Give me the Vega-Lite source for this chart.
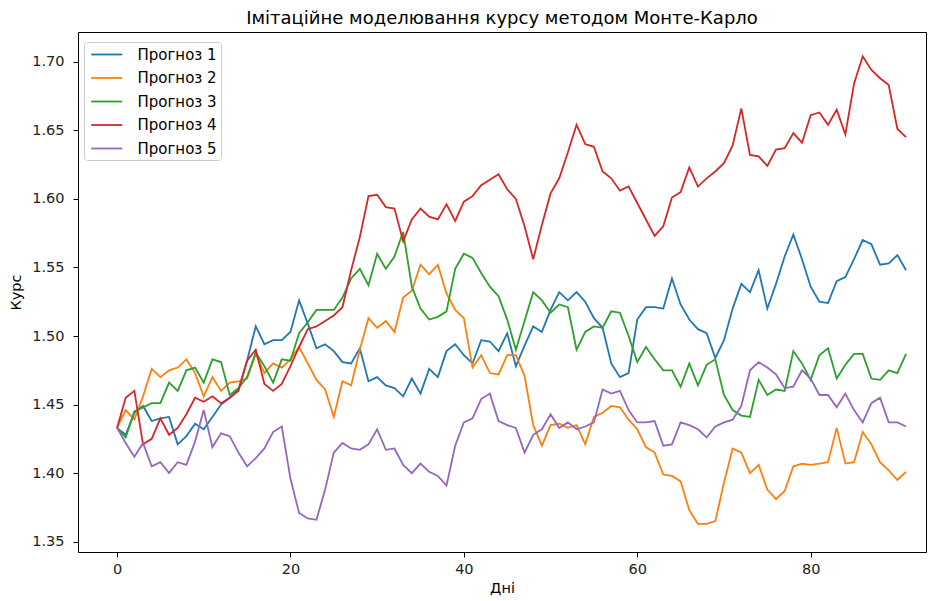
{
"$schema": "https://vega.github.io/schema/vega-lite/v6.json",
"width": 848, "height": 520,
"autosize": "none",
"padding": {"left": 78, "top": 32, "right": 6, "bottom": 49},
"background": "white",
"title": {"text": "Імітаційне моделювання курсу методом Монте-Карло", "font": "DejaVu Sans", "fontSize": 18, "fontWeight": "normal", "color": "#000", "offset": 4, "anchor": "middle"},
"datasets": {
"rows": [
{"day":0,"series":"Прогноз 1","value":1.433},{"day":1,"series":"Прогноз 1","value":1.428},{"day":2,"series":"Прогноз 1","value":1.444},{"day":3,"series":"Прогноз 1","value":1.449},{"day":4,"series":"Прогноз 1","value":1.438},{"day":5,"series":"Прогноз 1","value":1.440},{"day":6,"series":"Прогноз 1","value":1.441},{"day":7,"series":"Прогноз 1","value":1.421},{"day":8,"series":"Прогноз 1","value":1.427},{"day":9,"series":"Прогноз 1","value":1.436},
{"day":10,"series":"Прогноз 1","value":1.432},{"day":11,"series":"Прогноз 1","value":1.441},{"day":12,"series":"Прогноз 1","value":1.450},{"day":13,"series":"Прогноз 1","value":1.455},{"day":14,"series":"Прогноз 1","value":1.461},{"day":15,"series":"Прогноз 1","value":1.482},{"day":16,"series":"Прогноз 1","value":1.507},{"day":17,"series":"Прогноз 1","value":1.494},{"day":18,"series":"Прогноз 1","value":1.497},{"day":19,"series":"Прогноз 1","value":1.497},
{"day":20,"series":"Прогноз 1","value":1.503},{"day":21,"series":"Прогноз 1","value":1.526},{"day":22,"series":"Прогноз 1","value":1.509},{"day":23,"series":"Прогноз 1","value":1.491},{"day":24,"series":"Прогноз 1","value":1.494},{"day":25,"series":"Прогноз 1","value":1.489},{"day":26,"series":"Прогноз 1","value":1.481},{"day":27,"series":"Прогноз 1","value":1.480},{"day":28,"series":"Прогноз 1","value":1.491},{"day":29,"series":"Прогноз 1","value":1.467},
{"day":30,"series":"Прогноз 1","value":1.470},{"day":31,"series":"Прогноз 1","value":1.464},{"day":32,"series":"Прогноз 1","value":1.462},{"day":33,"series":"Прогноз 1","value":1.456},{"day":34,"series":"Прогноз 1","value":1.469},{"day":35,"series":"Прогноз 1","value":1.458},{"day":36,"series":"Прогноз 1","value":1.476},{"day":37,"series":"Прогноз 1","value":1.470},{"day":38,"series":"Прогноз 1","value":1.489},{"day":39,"series":"Прогноз 1","value":1.494},
{"day":40,"series":"Прогноз 1","value":1.486},{"day":41,"series":"Прогноз 1","value":1.480},{"day":42,"series":"Прогноз 1","value":1.497},{"day":43,"series":"Прогноз 1","value":1.496},{"day":44,"series":"Прогноз 1","value":1.489},{"day":45,"series":"Прогноз 1","value":1.502},{"day":46,"series":"Прогноз 1","value":1.478},{"day":47,"series":"Прогноз 1","value":1.493},{"day":48,"series":"Прогноз 1","value":1.507},{"day":49,"series":"Прогноз 1","value":1.503},
{"day":50,"series":"Прогноз 1","value":1.519},{"day":51,"series":"Прогноз 1","value":1.532},{"day":52,"series":"Прогноз 1","value":1.526},{"day":53,"series":"Прогноз 1","value":1.532},{"day":54,"series":"Прогноз 1","value":1.525},{"day":55,"series":"Прогноз 1","value":1.513},{"day":56,"series":"Прогноз 1","value":1.506},{"day":57,"series":"Прогноз 1","value":1.480},{"day":58,"series":"Прогноз 1","value":1.470},{"day":59,"series":"Прогноз 1","value":1.473},
{"day":60,"series":"Прогноз 1","value":1.512},{"day":61,"series":"Прогноз 1","value":1.521},{"day":62,"series":"Прогноз 1","value":1.521},{"day":63,"series":"Прогноз 1","value":1.520},{"day":64,"series":"Прогноз 1","value":1.542},{"day":65,"series":"Прогноз 1","value":1.523},{"day":66,"series":"Прогноз 1","value":1.512},{"day":67,"series":"Прогноз 1","value":1.505},{"day":68,"series":"Прогноз 1","value":1.502},{"day":69,"series":"Прогноз 1","value":1.484},
{"day":70,"series":"Прогноз 1","value":1.497},{"day":71,"series":"Прогноз 1","value":1.520},{"day":72,"series":"Прогноз 1","value":1.538},{"day":73,"series":"Прогноз 1","value":1.532},{"day":74,"series":"Прогноз 1","value":1.548},{"day":75,"series":"Прогноз 1","value":1.520},{"day":76,"series":"Прогноз 1","value":1.538},{"day":77,"series":"Прогноз 1","value":1.558},{"day":78,"series":"Прогноз 1","value":1.574},{"day":79,"series":"Прогноз 1","value":1.556},
{"day":80,"series":"Прогноз 1","value":1.536},{"day":81,"series":"Прогноз 1","value":1.525},{"day":82,"series":"Прогноз 1","value":1.524},{"day":83,"series":"Прогноз 1","value":1.540},{"day":84,"series":"Прогноз 1","value":1.543},{"day":85,"series":"Прогноз 1","value":1.556},{"day":86,"series":"Прогноз 1","value":1.570},{"day":87,"series":"Прогноз 1","value":1.567},{"day":88,"series":"Прогноз 1","value":1.552},{"day":89,"series":"Прогноз 1","value":1.553},
{"day":90,"series":"Прогноз 1","value":1.559},{"day":91,"series":"Прогноз 1","value":1.548},

{"day":0,"series":"Прогноз 2","value":1.433},{"day":1,"series":"Прогноз 2","value":1.446},{"day":2,"series":"Прогноз 2","value":1.439},{"day":3,"series":"Прогноз 2","value":1.456},{"day":4,"series":"Прогноз 2","value":1.476},{"day":5,"series":"Прогноз 2","value":1.470},{"day":6,"series":"Прогноз 2","value":1.475},{"day":7,"series":"Прогноз 2","value":1.477},{"day":8,"series":"Прогноз 2","value":1.483},{"day":9,"series":"Прогноз 2","value":1.473},
{"day":10,"series":"Прогноз 2","value":1.456},{"day":11,"series":"Прогноз 2","value":1.470},{"day":12,"series":"Прогноз 2","value":1.460},{"day":13,"series":"Прогноз 2","value":1.466},{"day":14,"series":"Прогноз 2","value":1.467},{"day":15,"series":"Прогноз 2","value":1.469},{"day":16,"series":"Прогноз 2","value":1.487},{"day":17,"series":"Прогноз 2","value":1.473},{"day":18,"series":"Прогноз 2","value":1.480},{"day":19,"series":"Прогноз 2","value":1.477},
{"day":20,"series":"Прогноз 2","value":1.483},{"day":21,"series":"Прогноз 2","value":1.492},{"day":22,"series":"Прогноз 2","value":1.480},{"day":23,"series":"Прогноз 2","value":1.468},{"day":24,"series":"Прогноз 2","value":1.461},{"day":25,"series":"Прогноз 2","value":1.441},{"day":26,"series":"Прогноз 2","value":1.467},{"day":27,"series":"Прогноз 2","value":1.464},{"day":28,"series":"Прогноз 2","value":1.490},{"day":29,"series":"Прогноз 2","value":1.513},
{"day":30,"series":"Прогноз 2","value":1.506},{"day":31,"series":"Прогноз 2","value":1.511},{"day":32,"series":"Прогноз 2","value":1.503},{"day":33,"series":"Прогноз 2","value":1.528},{"day":34,"series":"Прогноз 2","value":1.533},{"day":35,"series":"Прогноз 2","value":1.552},{"day":36,"series":"Прогноз 2","value":1.545},{"day":37,"series":"Прогноз 2","value":1.552},{"day":38,"series":"Прогноз 2","value":1.531},{"day":39,"series":"Прогноз 2","value":1.519},
{"day":40,"series":"Прогноз 2","value":1.513},{"day":41,"series":"Прогноз 2","value":1.477},{"day":42,"series":"Прогноз 2","value":1.486},{"day":43,"series":"Прогноз 2","value":1.473},{"day":44,"series":"Прогноз 2","value":1.472},{"day":45,"series":"Прогноз 2","value":1.486},{"day":46,"series":"Прогноз 2","value":1.486},{"day":47,"series":"Прогноз 2","value":1.471},{"day":48,"series":"Прогноз 2","value":1.435},{"day":49,"series":"Прогноз 2","value":1.420},
{"day":50,"series":"Прогноз 2","value":1.435},{"day":51,"series":"Прогноз 2","value":1.436},{"day":52,"series":"Прогноз 2","value":1.433},{"day":53,"series":"Прогноз 2","value":1.435},{"day":54,"series":"Прогноз 2","value":1.421},{"day":55,"series":"Прогноз 2","value":1.441},{"day":56,"series":"Прогноз 2","value":1.444},{"day":57,"series":"Прогноз 2","value":1.449},{"day":58,"series":"Прогноз 2","value":1.448},{"day":59,"series":"Прогноз 2","value":1.439},
{"day":60,"series":"Прогноз 2","value":1.432},{"day":61,"series":"Прогноз 2","value":1.419},{"day":62,"series":"Прогноз 2","value":1.415},{"day":63,"series":"Прогноз 2","value":1.399},{"day":64,"series":"Прогноз 2","value":1.398},{"day":65,"series":"Прогноз 2","value":1.394},{"day":66,"series":"Прогноз 2","value":1.373},{"day":67,"series":"Прогноз 2","value":1.363},{"day":68,"series":"Прогноз 2","value":1.363},{"day":69,"series":"Прогноз 2","value":1.365},
{"day":70,"series":"Прогноз 2","value":1.393},{"day":71,"series":"Прогноз 2","value":1.418},{"day":72,"series":"Прогноз 2","value":1.415},{"day":73,"series":"Прогноз 2","value":1.400},{"day":74,"series":"Прогноз 2","value":1.406},{"day":75,"series":"Прогноз 2","value":1.388},{"day":76,"series":"Прогноз 2","value":1.381},{"day":77,"series":"Прогноз 2","value":1.387},{"day":78,"series":"Прогноз 2","value":1.405},{"day":79,"series":"Прогноз 2","value":1.407},
{"day":80,"series":"Прогноз 2","value":1.406},{"day":81,"series":"Прогноз 2","value":1.407},{"day":82,"series":"Прогноз 2","value":1.408},{"day":83,"series":"Прогноз 2","value":1.433},{"day":84,"series":"Прогноз 2","value":1.407},{"day":85,"series":"Прогноз 2","value":1.408},{"day":86,"series":"Прогноз 2","value":1.430},{"day":87,"series":"Прогноз 2","value":1.421},{"day":88,"series":"Прогноз 2","value":1.408},{"day":89,"series":"Прогноз 2","value":1.402},
{"day":90,"series":"Прогноз 2","value":1.395},{"day":91,"series":"Прогноз 2","value":1.401},

{"day":0,"series":"Прогноз 3","value":1.433},{"day":1,"series":"Прогноз 3","value":1.426},{"day":2,"series":"Прогноз 3","value":1.445},{"day":3,"series":"Прогноз 3","value":1.448},{"day":4,"series":"Прогноз 3","value":1.451},{"day":5,"series":"Прогноз 3","value":1.451},{"day":6,"series":"Прогноз 3","value":1.466},{"day":7,"series":"Прогноз 3","value":1.460},{"day":8,"series":"Прогноз 3","value":1.475},{"day":9,"series":"Прогноз 3","value":1.477},
{"day":10,"series":"Прогноз 3","value":1.466},{"day":11,"series":"Прогноз 3","value":1.483},{"day":12,"series":"Прогноз 3","value":1.481},{"day":13,"series":"Прогноз 3","value":1.457},{"day":14,"series":"Прогноз 3","value":1.462},{"day":15,"series":"Прогноз 3","value":1.470},{"day":16,"series":"Прогноз 3","value":1.488},{"day":17,"series":"Прогноз 3","value":1.478},{"day":18,"series":"Прогноз 3","value":1.466},{"day":19,"series":"Прогноз 3","value":1.483},
{"day":20,"series":"Прогноз 3","value":1.482},{"day":21,"series":"Прогноз 3","value":1.502},{"day":22,"series":"Прогноз 3","value":1.510},{"day":23,"series":"Прогноз 3","value":1.519},{"day":24,"series":"Прогноз 3","value":1.519},{"day":25,"series":"Прогноз 3","value":1.519},{"day":26,"series":"Прогноз 3","value":1.528},{"day":27,"series":"Прогноз 3","value":1.542},{"day":28,"series":"Прогноз 3","value":1.549},{"day":29,"series":"Прогноз 3","value":1.537},
{"day":30,"series":"Прогноз 3","value":1.560},{"day":31,"series":"Прогноз 3","value":1.549},{"day":32,"series":"Прогноз 3","value":1.558},{"day":33,"series":"Прогноз 3","value":1.576},{"day":34,"series":"Прогноз 3","value":1.536},{"day":35,"series":"Прогноз 3","value":1.520},{"day":36,"series":"Прогноз 3","value":1.512},{"day":37,"series":"Прогноз 3","value":1.514},{"day":38,"series":"Прогноз 3","value":1.518},{"day":39,"series":"Прогноз 3","value":1.549},
{"day":40,"series":"Прогноз 3","value":1.560},{"day":41,"series":"Прогноз 3","value":1.557},{"day":42,"series":"Прогноз 3","value":1.546},{"day":43,"series":"Прогноз 3","value":1.536},{"day":44,"series":"Прогноз 3","value":1.529},{"day":45,"series":"Прогноз 3","value":1.512},{"day":46,"series":"Прогноз 3","value":1.490},{"day":47,"series":"Прогноз 3","value":1.511},{"day":48,"series":"Прогноз 3","value":1.532},{"day":49,"series":"Прогноз 3","value":1.526},
{"day":50,"series":"Прогноз 3","value":1.517},{"day":51,"series":"Прогноз 3","value":1.523},{"day":52,"series":"Прогноз 3","value":1.521},{"day":53,"series":"Прогноз 3","value":1.490},{"day":54,"series":"Прогноз 3","value":1.503},{"day":55,"series":"Прогноз 3","value":1.507},{"day":56,"series":"Прогноз 3","value":1.506},{"day":57,"series":"Прогноз 3","value":1.518},{"day":58,"series":"Прогноз 3","value":1.517},{"day":59,"series":"Прогноз 3","value":1.500},
{"day":60,"series":"Прогноз 3","value":1.481},{"day":61,"series":"Прогноз 3","value":1.492},{"day":62,"series":"Прогноз 3","value":1.483},{"day":63,"series":"Прогноз 3","value":1.475},{"day":64,"series":"Прогноз 3","value":1.475},{"day":65,"series":"Прогноз 3","value":1.463},{"day":66,"series":"Прогноз 3","value":1.480},{"day":67,"series":"Прогноз 3","value":1.464},{"day":68,"series":"Прогноз 3","value":1.479},{"day":69,"series":"Прогноз 3","value":1.483},
{"day":70,"series":"Прогноз 3","value":1.457},{"day":71,"series":"Прогноз 3","value":1.446},{"day":72,"series":"Прогноз 3","value":1.442},{"day":73,"series":"Прогноз 3","value":1.441},{"day":74,"series":"Прогноз 3","value":1.468},{"day":75,"series":"Прогноз 3","value":1.457},{"day":76,"series":"Прогноз 3","value":1.461},{"day":77,"series":"Прогноз 3","value":1.460},{"day":78,"series":"Прогноз 3","value":1.489},{"day":79,"series":"Прогноз 3","value":1.480},
{"day":80,"series":"Прогноз 3","value":1.468},{"day":81,"series":"Прогноз 3","value":1.486},{"day":82,"series":"Прогноз 3","value":1.491},{"day":83,"series":"Прогноз 3","value":1.469},{"day":84,"series":"Прогноз 3","value":1.479},{"day":85,"series":"Прогноз 3","value":1.487},{"day":86,"series":"Прогноз 3","value":1.487},{"day":87,"series":"Прогноз 3","value":1.469},{"day":88,"series":"Прогноз 3","value":1.468},{"day":89,"series":"Прогноз 3","value":1.475},
{"day":90,"series":"Прогноз 3","value":1.473},{"day":91,"series":"Прогноз 3","value":1.487},

{"day":0,"series":"Прогноз 4","value":1.433},{"day":1,"series":"Прогноз 4","value":1.455},{"day":2,"series":"Прогноз 4","value":1.460},{"day":3,"series":"Прогноз 4","value":1.421},{"day":4,"series":"Прогноз 4","value":1.425},{"day":5,"series":"Прогноз 4","value":1.440},{"day":6,"series":"Прогноз 4","value":1.428},{"day":7,"series":"Прогноз 4","value":1.433},{"day":8,"series":"Прогноз 4","value":1.443},{"day":9,"series":"Прогноз 4","value":1.455},
{"day":10,"series":"Прогноз 4","value":1.452},{"day":11,"series":"Прогноз 4","value":1.456},{"day":12,"series":"Прогноз 4","value":1.451},{"day":13,"series":"Прогноз 4","value":1.455},{"day":14,"series":"Прогноз 4","value":1.460},{"day":15,"series":"Прогноз 4","value":1.482},{"day":16,"series":"Прогноз 4","value":1.490},{"day":17,"series":"Прогноз 4","value":1.465},{"day":18,"series":"Прогноз 4","value":1.460},{"day":19,"series":"Прогноз 4","value":1.465},
{"day":20,"series":"Прогноз 4","value":1.478},{"day":21,"series":"Прогноз 4","value":1.492},{"day":22,"series":"Прогноз 4","value":1.505},{"day":23,"series":"Прогноз 4","value":1.507},{"day":24,"series":"Прогноз 4","value":1.511},{"day":25,"series":"Прогноз 4","value":1.515},{"day":26,"series":"Прогноз 4","value":1.521},{"day":27,"series":"Прогноз 4","value":1.548},{"day":28,"series":"Прогноз 4","value":1.572},{"day":29,"series":"Прогноз 4","value":1.602},
{"day":30,"series":"Прогноз 4","value":1.603},{"day":31,"series":"Прогноз 4","value":1.594},{"day":32,"series":"Прогноз 4","value":1.593},{"day":33,"series":"Прогноз 4","value":1.569},{"day":34,"series":"Прогноз 4","value":1.585},{"day":35,"series":"Прогноз 4","value":1.593},{"day":36,"series":"Прогноз 4","value":1.587},{"day":37,"series":"Прогноз 4","value":1.585},{"day":38,"series":"Прогноз 4","value":1.596},{"day":39,"series":"Прогноз 4","value":1.584},
{"day":40,"series":"Прогноз 4","value":1.598},{"day":41,"series":"Прогноз 4","value":1.602},{"day":42,"series":"Прогноз 4","value":1.610},{"day":43,"series":"Прогноз 4","value":1.614},{"day":44,"series":"Прогноз 4","value":1.618},{"day":45,"series":"Прогноз 4","value":1.607},{"day":46,"series":"Прогноз 4","value":1.600},{"day":47,"series":"Прогноз 4","value":1.580},{"day":48,"series":"Прогноз 4","value":1.556},{"day":49,"series":"Прогноз 4","value":1.581},
{"day":50,"series":"Прогноз 4","value":1.604},{"day":51,"series":"Прогноз 4","value":1.615},{"day":52,"series":"Прогноз 4","value":1.634},{"day":53,"series":"Прогноз 4","value":1.654},{"day":54,"series":"Прогноз 4","value":1.640},{"day":55,"series":"Прогноз 4","value":1.638},{"day":56,"series":"Прогноз 4","value":1.620},{"day":57,"series":"Прогноз 4","value":1.615},{"day":58,"series":"Прогноз 4","value":1.606},{"day":59,"series":"Прогноз 4","value":1.609},
{"day":60,"series":"Прогноз 4","value":1.597},{"day":61,"series":"Прогноз 4","value":1.585},{"day":62,"series":"Прогноз 4","value":1.573},{"day":63,"series":"Прогноз 4","value":1.580},{"day":64,"series":"Прогноз 4","value":1.601},{"day":65,"series":"Прогноз 4","value":1.605},{"day":66,"series":"Прогноз 4","value":1.623},{"day":67,"series":"Прогноз 4","value":1.609},{"day":68,"series":"Прогноз 4","value":1.615},{"day":69,"series":"Прогноз 4","value":1.620},
{"day":70,"series":"Прогноз 4","value":1.626},{"day":71,"series":"Прогноз 4","value":1.639},{"day":72,"series":"Прогноз 4","value":1.666},{"day":73,"series":"Прогноз 4","value":1.632},{"day":74,"series":"Прогноз 4","value":1.631},{"day":75,"series":"Прогноз 4","value":1.624},{"day":76,"series":"Прогноз 4","value":1.636},{"day":77,"series":"Прогноз 4","value":1.637},{"day":78,"series":"Прогноз 4","value":1.648},{"day":79,"series":"Прогноз 4","value":1.641},
{"day":80,"series":"Прогноз 4","value":1.661},{"day":81,"series":"Прогноз 4","value":1.663},{"day":82,"series":"Прогноз 4","value":1.654},{"day":83,"series":"Прогноз 4","value":1.665},{"day":84,"series":"Прогноз 4","value":1.647},{"day":85,"series":"Прогноз 4","value":1.684},{"day":86,"series":"Прогноз 4","value":1.704},{"day":87,"series":"Прогноз 4","value":1.694},{"day":88,"series":"Прогноз 4","value":1.688},{"day":89,"series":"Прогноз 4","value":1.683},
{"day":90,"series":"Прогноз 4","value":1.651},{"day":91,"series":"Прогноз 4","value":1.645},

{"day":0,"series":"Прогноз 5","value":1.433},{"day":1,"series":"Прогноз 5","value":1.422},{"day":2,"series":"Прогноз 5","value":1.412},{"day":3,"series":"Прогноз 5","value":1.422},{"day":4,"series":"Прогноз 5","value":1.405},{"day":5,"series":"Прогноз 5","value":1.408},{"day":6,"series":"Прогноз 5","value":1.400},{"day":7,"series":"Прогноз 5","value":1.408},{"day":8,"series":"Прогноз 5","value":1.406},{"day":9,"series":"Прогноз 5","value":1.423},
{"day":10,"series":"Прогноз 5","value":1.446},{"day":11,"series":"Прогноз 5","value":1.419},{"day":12,"series":"Прогноз 5","value":1.429},{"day":13,"series":"Прогноз 5","value":1.427},{"day":14,"series":"Прогноз 5","value":1.415},{"day":15,"series":"Прогноз 5","value":1.405},{"day":16,"series":"Прогноз 5","value":1.411},{"day":17,"series":"Прогноз 5","value":1.418},{"day":18,"series":"Прогноз 5","value":1.430},{"day":19,"series":"Прогноз 5","value":1.434},
{"day":20,"series":"Прогноз 5","value":1.396},{"day":21,"series":"Прогноз 5","value":1.371},{"day":22,"series":"Прогноз 5","value":1.367},{"day":23,"series":"Прогноз 5","value":1.366},{"day":24,"series":"Прогноз 5","value":1.388},{"day":25,"series":"Прогноз 5","value":1.415},{"day":26,"series":"Прогноз 5","value":1.422},{"day":27,"series":"Прогноз 5","value":1.418},{"day":28,"series":"Прогноз 5","value":1.417},{"day":29,"series":"Прогноз 5","value":1.421},
{"day":30,"series":"Прогноз 5","value":1.432},{"day":31,"series":"Прогноз 5","value":1.417},{"day":32,"series":"Прогноз 5","value":1.418},{"day":33,"series":"Прогноз 5","value":1.406},{"day":34,"series":"Прогноз 5","value":1.400},{"day":35,"series":"Прогноз 5","value":1.407},{"day":36,"series":"Прогноз 5","value":1.401},{"day":37,"series":"Прогноз 5","value":1.398},{"day":38,"series":"Прогноз 5","value":1.391},{"day":39,"series":"Прогноз 5","value":1.420},
{"day":40,"series":"Прогноз 5","value":1.437},{"day":41,"series":"Прогноз 5","value":1.440},{"day":42,"series":"Прогноз 5","value":1.454},{"day":43,"series":"Прогноз 5","value":1.458},{"day":44,"series":"Прогноз 5","value":1.438},{"day":45,"series":"Прогноз 5","value":1.435},{"day":46,"series":"Прогноз 5","value":1.433},{"day":47,"series":"Прогноз 5","value":1.415},{"day":48,"series":"Прогноз 5","value":1.428},{"day":49,"series":"Прогноз 5","value":1.432},
{"day":50,"series":"Прогноз 5","value":1.443},{"day":51,"series":"Прогноз 5","value":1.433},{"day":52,"series":"Прогноз 5","value":1.437},{"day":53,"series":"Прогноз 5","value":1.432},{"day":54,"series":"Прогноз 5","value":1.434},{"day":55,"series":"Прогноз 5","value":1.437},{"day":56,"series":"Прогноз 5","value":1.461},{"day":57,"series":"Прогноз 5","value":1.458},{"day":58,"series":"Прогноз 5","value":1.460},{"day":59,"series":"Прогноз 5","value":1.446},
{"day":60,"series":"Прогноз 5","value":1.437},{"day":61,"series":"Прогноз 5","value":1.437},{"day":62,"series":"Прогноз 5","value":1.438},{"day":63,"series":"Прогноз 5","value":1.420},{"day":64,"series":"Прогноз 5","value":1.421},{"day":65,"series":"Прогноз 5","value":1.437},{"day":66,"series":"Прогноз 5","value":1.435},{"day":67,"series":"Прогноз 5","value":1.432},{"day":68,"series":"Прогноз 5","value":1.426},{"day":69,"series":"Прогноз 5","value":1.434},
{"day":70,"series":"Прогноз 5","value":1.437},{"day":71,"series":"Прогноз 5","value":1.439},{"day":72,"series":"Прогноз 5","value":1.449},{"day":73,"series":"Прогноз 5","value":1.475},{"day":74,"series":"Прогноз 5","value":1.481},{"day":75,"series":"Прогноз 5","value":1.477},{"day":76,"series":"Прогноз 5","value":1.472},{"day":77,"series":"Прогноз 5","value":1.462},{"day":78,"series":"Прогноз 5","value":1.463},{"day":79,"series":"Прогноз 5","value":1.475},
{"day":80,"series":"Прогноз 5","value":1.469},{"day":81,"series":"Прогноз 5","value":1.457},{"day":82,"series":"Прогноз 5","value":1.457},{"day":83,"series":"Прогноз 5","value":1.448},{"day":84,"series":"Прогноз 5","value":1.458},{"day":85,"series":"Прогноз 5","value":1.446},{"day":86,"series":"Прогноз 5","value":1.437},{"day":87,"series":"Прогноз 5","value":1.451},{"day":88,"series":"Прогноз 5","value":1.455},{"day":89,"series":"Прогноз 5","value":1.437},
{"day":90,"series":"Прогноз 5","value":1.437},{"day":91,"series":"Прогноз 5","value":1.434}
]
},
"data": {"name": "rows"},
"mark": {"type": "line", "strokeWidth": 1.8},
"encoding": {
"x": {"field": "day", "type": "quantitative", "scale": {"domain": [-4.5, 93.3], "nice": false, "zero": false},
"axis": {"values": [0, 20, 40, 60, 80], "title": "Дні", "format": "d", "labelPadding": 5, "titlePadding": 6}},
"y": {"field": "value", "type": "quantitative", "scale": {"domain": [1.3425, 1.7217], "nice": false, "zero": false},
"axis": {"values": [1.35, 1.4, 1.45, 1.5, 1.55, 1.6, 1.65, 1.7], "format": ".2f", "title": "Курс", "labelPadding": 9, "titlePadding": 8}},
"color": {"field": "series", "type": "nominal",
"scale": {"domain": ["Прогноз 1", "Прогноз 2", "Прогноз 3", "Прогноз 4", "Прогноз 5"], "range": ["#1f77b4", "#ff7f0e", "#2ca02c", "#d62728", "#9467bd"]},
"legend": {"title": null, "orient": "none", "legendX": 6, "legendY": 10, "padding": 3.5, "symbolOffset": 10.25, "strokeColor": "#cccccc", "fillColor": "white", "cornerRadius": 3, "symbolType": "M-2,0H2", "symbolSize": 240, "symbolStrokeWidth": 1.8, "symbolFillColor": "transparent", "labelFont": "DejaVu Sans", "labelFontSize": 15, "labelColor": "#000", "rowPadding": 6.5, "labelOffset": 21.75}}
},
"config": {
"view": {"stroke": "#000", "strokeWidth": 1},
"axis": {"domain": false, "grid": false, "ticks": true, "tickColor": "#000", "tickSize": 5, "labelFont": "DejaVu Sans", "labelFontSize": 14.5, "labelColor": "#222", "titleFont": "DejaVu Sans", "titleFontSize": 14.5, "titleFontWeight": "normal", "titleColor": "#000"}
}
}
